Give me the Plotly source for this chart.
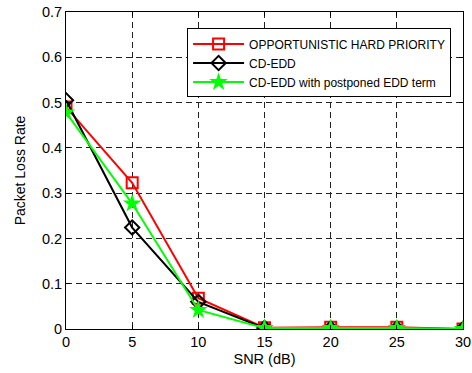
import plotly.graph_objects as go

snr = [0, 5, 10, 15, 20, 25, 30]
ohp = [0.49, 0.323, 0.068, 0.003, 0.004, 0.004, 0.0]
cdedd = [0.505, 0.224, 0.060, 0.002, 0.001, 0.001, 0.0]
cdedd_post = [0.478, 0.277, 0.042, 0.002, 0.002, 0.002, 0.0]
names = ["OPPORTUNISTIC HARD PRIORITY", "CD-EDD", "CD-EDD with postponed EDD term"]

fig = go.Figure()
fig.add_trace(go.Scatter(x=snr, y=ohp, name=names[0], mode="lines+markers",
                         line=dict(color="#ff0000", width=2),
                         marker=dict(symbol="square-open", size=11, color="#ff0000", line=dict(width=2))))
fig.add_trace(go.Scatter(x=snr, y=cdedd, name=names[1], mode="lines+markers",
                         line=dict(color="#000000", width=2),
                         marker=dict(symbol="diamond-open", size=11, color="#000000", line=dict(width=2))))
fig.add_trace(go.Scatter(x=snr, y=cdedd_post, name=names[2], mode="lines+markers",
                         line=dict(color="#00ff00", width=2),
                         marker=dict(symbol="star", size=14, color="#00ff00")))

axis_common = dict(showline=True, linecolor="black", linewidth=1, mirror="ticks",
                   ticks="inside", ticklen=4, tickcolor="black", automargin=False,
                   showgrid=True, gridcolor="#222222", griddash="6px,4px", gridwidth=1,
                   zeroline=False, tickfont=dict(family="Liberation Sans, Arial", size=14.5, color="black"))

fig.update_layout(
    width=472, height=373,
    margin=dict(l=66, r=9, t=12, b=44),
    paper_bgcolor="white", plot_bgcolor="white",
    font=dict(family="Liberation Sans, Arial", color="black"),
    xaxis=dict(range=[0, 30], dtick=5,
               title=dict(text="SNR (dB)", font=dict(size=14.5), standoff=4), **axis_common),
    yaxis=dict(range=[0, 0.7], dtick=0.1,
               title=dict(text="Packet Loss Rate", font=dict(size=14), standoff=13), **axis_common),
    legend=dict(x=0.305, y=0.948, xanchor="left", yanchor="top",
                bgcolor="white", bordercolor="black", borderwidth=1,
                font=dict(size=12, family="Liberation Sans, Arial"),
                tracegroupgap=0, itemwidth=51),
    showlegend=True,
)

fig.write_html("out.html")
